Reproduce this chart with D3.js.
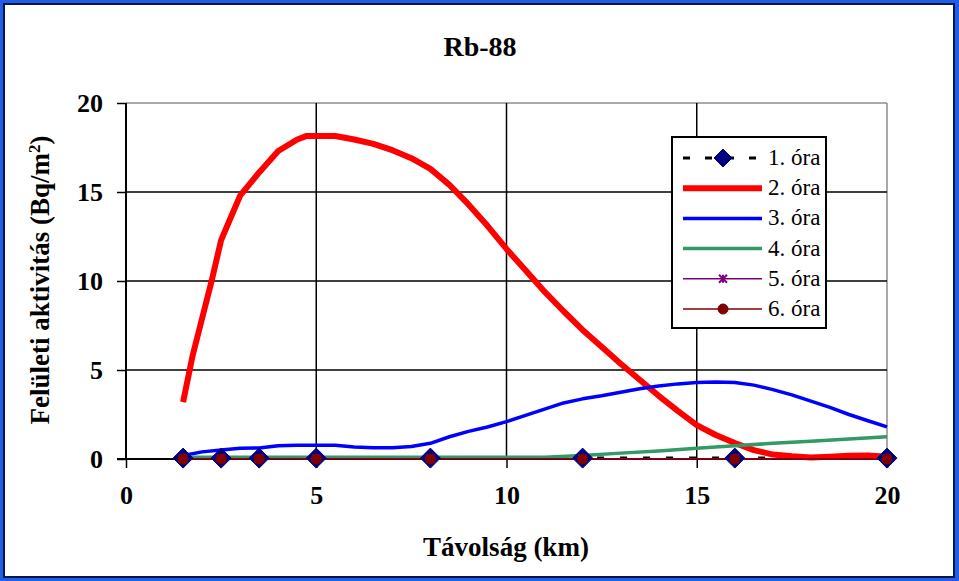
<!DOCTYPE html>
<html><head><meta charset="utf-8"><script src="https://cdn.jsdelivr.net/npm/d3@7"></script></head>
<body style="margin:0">
<script>
// ---- data ----
const chartTitle = "Rb-88";
const xTitle = "Távolság (km)";
const seriesNames = ["1. óra","2. óra","3. óra","4. óra","5. óra","6. óra"];
const xTicks = [0,5,10,15,20];
const yTicks = [0,5,10,15,20];

// measurement points (markers)
const distPts = [1.5,2.5,3.5,5,8,12,16,20];
const ora1 = [0.05,0.05,0.05,0.05,0.05,0.05,0.05,0.05];
const ora5 = [0.02,0.02,0.02,0.02,0.02,0.02,0.02,0.02];
const ora6 = [0,0,0,0,0,0,0,0];

// fine-grained curves
const dist2 = [1.5,1.75,2,2.25,2.5,2.7,3,3.5,4,4.5,4.75,5,5.5,6,6.5,7,7.5,8,8.5,9,9.5,10,10.5,11,11.5,12,12.5,13,13.5,14,14.5,15,15.5,16,16.5,17,17.5,18,18.5,19,19.5,20];
const ora2 = [3.2,5.8,7.9,10.0,12.3,13.3,14.8,16.1,17.3,17.95,18.15,18.15,18.15,17.95,17.7,17.35,16.9,16.3,15.4,14.3,13.1,11.8,10.6,9.4,8.3,7.25,6.3,5.35,4.45,3.55,2.7,1.9,1.35,0.9,0.5,0.25,0.15,0.08,0.12,0.18,0.2,0.12];
const dist3 = [1.5,2,2.5,3,3.5,4,4.5,5,5.5,6,6.5,7,7.5,8,8.5,9,9.5,10,10.5,11,11.5,12,12.5,13,13.5,14,14.5,15,15.5,16,16.5,17,17.5,18,18.5,19,19.5,20];
const ora3 = [0.2,0.4,0.5,0.6,0.62,0.75,0.77,0.77,0.77,0.68,0.63,0.63,0.7,0.88,1.25,1.55,1.8,2.1,2.45,2.8,3.15,3.38,3.55,3.75,3.95,4.1,4.22,4.3,4.32,4.3,4.15,3.9,3.6,3.25,2.9,2.5,2.15,1.8];
const dist4 = [1.5,5,8,11,12,13,14,15,16,17,18,19,20];
const ora4 = [0.1,0.1,0.1,0.1,0.2,0.33,0.45,0.6,0.75,0.88,1.0,1.12,1.25];

// ---- layout ----
const W = 959, H = 581;
const M = {left:126, right:887, top:103, bottom:459};
const FONT = '"Liberation Serif", "Times New Roman", serif';

const svg = d3.select("body").append("svg").attr("width",W).attr("height",H).style("display","block");

// outer frame
svg.append("rect").attr("x",0).attr("y",0).attr("width",W).attr("height",H).attr("fill","#1f5fe3");
svg.append("rect").attr("x",3).attr("y",3).attr("width",952).attr("height",575).attr("fill","#0b1450");
svg.append("rect").attr("x",5).attr("y",5).attr("width",948).attr("height",571).attr("fill","#ffffff");

const x = d3.scaleLinear().domain([0,20]).range([M.left,M.right]);
const y = d3.scaleLinear().domain([0,20]).range([M.bottom,M.top]);

// plot border (top/right gray)
svg.append("line").attr("x1",M.left).attr("x2",M.right).attr("y1",M.top).attr("y2",M.top).attr("stroke","#8c8c8c").attr("stroke-width",1.5);
svg.append("line").attr("x1",M.right).attr("x2",M.right).attr("y1",M.top).attr("y2",M.bottom).attr("stroke","#8c8c8c").attr("stroke-width",1.5);

// gridlines
svg.append("g").selectAll("line").data(yTicks.filter(v=>v>0&&v<20)).join("line")
  .attr("x1",M.left).attr("x2",M.right).attr("y1",d=>y(d)).attr("y2",d=>y(d))
  .attr("stroke","#000").attr("stroke-width",1.5);
svg.append("g").selectAll("line").data(xTicks.filter(v=>v>0&&v<20)).join("line")
  .attr("y1",M.top).attr("y2",M.bottom).attr("x1",d=>x(d)).attr("x2",d=>x(d))
  .attr("stroke","#000").attr("stroke-width",1.5);

// axes
const yAxis = d3.axisLeft(y).tickValues(yTicks).tickSize(9).tickPadding(14).tickFormat(d3.format("d"));
const gy = svg.append("g").attr("transform",`translate(${M.left},0)`).call(yAxis);
const xAxis = d3.axisBottom(x).tickValues(xTicks).tickSize(9).tickPadding(14).tickFormat(d3.format("d"));
const gx = svg.append("g").attr("transform",`translate(0,${M.bottom})`).call(xAxis);
[gy,gx].forEach(g=>{
  g.attr("font-family",FONT).attr("font-size",null);
  g.select(".domain").attr("stroke","#000").attr("stroke-width",2);
  g.selectAll(".tick line").attr("stroke","#000").attr("stroke-width",1.5);
  g.selectAll(".tick text").attr("fill","#000")
    .style("font-size","26px").style("font-weight","bold");
});
gy.select(".domain").attr("d",`M0,${M.top}V${M.bottom}`);
gx.select(".domain").attr("d",`M${M.left-9},0H${M.right}`);
gx.selectAll(".tick text").attr("dy","0.85em");

// lines
const line = d3.line().x(d=>x(d[0])).y(d=>y(d[1]));
const zip = (a,b)=>a.map((v,i)=>[v,b[i]]);

const styles = [
  {color:"#000000", width:3, dash:"7,16"},
  {color:"#ff0000", width:6},
  {color:"#0000ff", width:3.5},
  {color:"#339966", width:3.5},
  {color:"#800080", width:1.5},
  {color:"#800000", width:1.5}
];

const plot = svg.append("g");
const lineData = [zip(distPts,ora1), zip(dist2,ora2), zip(dist3,ora3), zip(dist4,ora4), zip(distPts,ora5), zip(distPts,ora6)];
lineData.forEach((dd,i)=>{
  const p = plot.append("path").attr("d",line(dd)).attr("fill","none")
    .attr("stroke",styles[i].color).attr("stroke-width",styles[i].width)
    .attr("stroke-linejoin","round");
  if(styles[i].dash) p.attr("stroke-dasharray",styles[i].dash);
});

// marker drawers
function diamond(g,cx,cy,r){
  g.append("path").attr("d",`M${cx},${cy-r}L${cx+r},${cy}L${cx},${cy+r}L${cx-r},${cy}Z`)
   .attr("fill","#000080").attr("stroke","#000080").attr("stroke-width",1);
}
function asterisk(g,cx,cy,r){
  const p=`M${cx-r},${cy-r}L${cx+r},${cy+r}M${cx-r},${cy+r}L${cx+r},${cy-r}M${cx},${cy-r}L${cx},${cy+r}`;
  g.append("path").attr("d",p).attr("stroke","#800080").attr("stroke-width",2).attr("fill","none");
}
function dot(g,cx,cy,r){
  g.append("circle").attr("cx",cx).attr("cy",cy).attr("r",r).attr("fill","#800000").attr("stroke","#800000");
}
const mk = svg.append("g");
distPts.forEach((d,i)=>diamond(mk,x(d),y(ora1[i]),10));
distPts.forEach((d,i)=>asterisk(mk,x(d),y(ora5[i]),4));
distPts.forEach((d,i)=>dot(mk,x(d),y(ora6[i]),5));

// legend
const lg = svg.append("g");
lg.append("rect").attr("x",672).attr("y",137).attr("width",154).attr("height",191)
  .attr("fill","#fff").attr("stroke","#000").attr("stroke-width",2);
seriesNames.forEach((name,i)=>{
  const ly = 158 + i*30.2;
  const s = styles[i];
  const l = lg.append("line").attr("x1",683).attr("x2",762).attr("y1",ly).attr("y2",ly)
    .attr("stroke",s.color).attr("stroke-width",s.width);
  if(s.dash) l.attr("stroke-dasharray","7,15").attr("stroke-dashoffset",0);
  if(i===0) diamond(lg,723,ly,9);
  if(i===4) asterisk(lg,723,ly,4);
  if(i===5) dot(lg,723,ly,5);
  lg.append("text").attr("x",768).attr("y",ly+7).text(name)
    .style("font-size","23px").attr("fill","#000");
});

// titles
svg.append("text").attr("x",480).attr("y",56).attr("text-anchor","middle")
  .style("font-size","28px").style("font-weight","bold").text(chartTitle);
svg.append("text").attr("x",506).attr("y",556).attr("text-anchor","middle")
  .style("font-size","27px").style("font-weight","bold").text(xTitle);
const yt = svg.append("text").attr("transform","translate(49,280) rotate(-90)").attr("text-anchor","middle")
  .style("font-size","27px").style("font-weight","bold");
yt.append("tspan").text("Felületi aktivitás (Bq/m");
yt.append("tspan").attr("baseline-shift","super").style("font-size","17px").text("2");
yt.append("tspan").text(")");

// apply serif font to all texts
svg.selectAll("text, tspan").attr("font-family", FONT).style("font-family", FONT, "important");
</script>
</body>
</html>
